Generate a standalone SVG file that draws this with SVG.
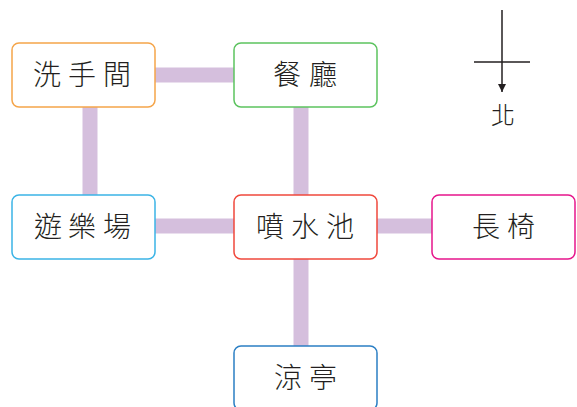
<svg xmlns="http://www.w3.org/2000/svg" width="577" height="407" viewBox="0 0 577 407">
<style>
.box{fill:#fff;stroke-width:1.5}
.lbl{font-family:"Noto Sans CJK TC","Noto Sans CJK SC",sans-serif;font-size:28px;font-weight:300;fill:#231f20;text-anchor:middle}
.conn{stroke:#d5bfdd;stroke-width:15;fill:none}
</style>
<defs>
<marker id="arr" viewBox="0 0 10 10" refX="10" refY="5" markerWidth="8" markerHeight="14" markerUnits="userSpaceOnUse" orient="auto">
<path d="M0,0 L10,5 L0,10 Z" fill="#231f20"/>
</marker>
</defs>
<rect width="577" height="407" fill="#fff"/>
<g id="connectors">
<line class="conn" x1="155" y1="75" x2="234" y2="75"/>
<line class="conn" x1="90" y1="107" x2="90" y2="195"/>
<line class="conn" x1="301" y1="107" x2="301" y2="195"/>
<line class="conn" x1="155" y1="226" x2="234" y2="226"/>
<line class="conn" x1="377" y1="226" x2="432" y2="226"/>
<line class="conn" x1="301" y1="259" x2="301" y2="346"/>
</g>
<g id="n-washroom">
<rect class="box" x="12" y="43" width="143" height="64" rx="7" stroke="#f5a54a"/>
<text class="lbl" x="47 82 117" y="85">洗手間</text>
</g>
<g id="n-restaurant">
<rect class="box" x="234" y="43" width="143" height="64" rx="7" stroke="#5cc35f"/>
<text class="lbl" x="287 323" y="85">餐廳</text>
</g>
<g id="n-playground">
<rect class="box" x="12" y="195" width="143" height="64" rx="7" stroke="#3bb4e6"/>
<text class="lbl" x="48 82 117" y="237">遊樂場</text>
</g>
<g id="n-fountain">
<rect class="box" x="234" y="195" width="143" height="64" rx="7" stroke="#f0483c"/>
<text class="lbl" x="270 305 340" y="237">噴水池</text>
</g>
<g id="n-bench">
<rect class="box" x="432" y="195" width="143" height="64" rx="7" stroke="#e6168c"/>
<text class="lbl" x="486 521" y="237">長椅</text>
</g>
<g id="n-pavilion">
<rect class="box" x="234" y="346" width="143" height="64" rx="7" stroke="#2b7fc4"/>
<text class="lbl" x="288 323" y="388">涼亭</text>
</g>
<g id="compass">
<line x1="502" y1="10" x2="502" y2="92" stroke="#231f20" stroke-width="1.5" marker-end="url(#arr)"/>
<line x1="474" y1="62" x2="530" y2="62" stroke="#231f20" stroke-width="1.5"/>
<text x="503" y="124" style="font-family:'Noto Sans CJK TC',sans-serif;font-size:24px;font-weight:300;fill:#231f20;text-anchor:middle">北</text>
</g>
</svg>
